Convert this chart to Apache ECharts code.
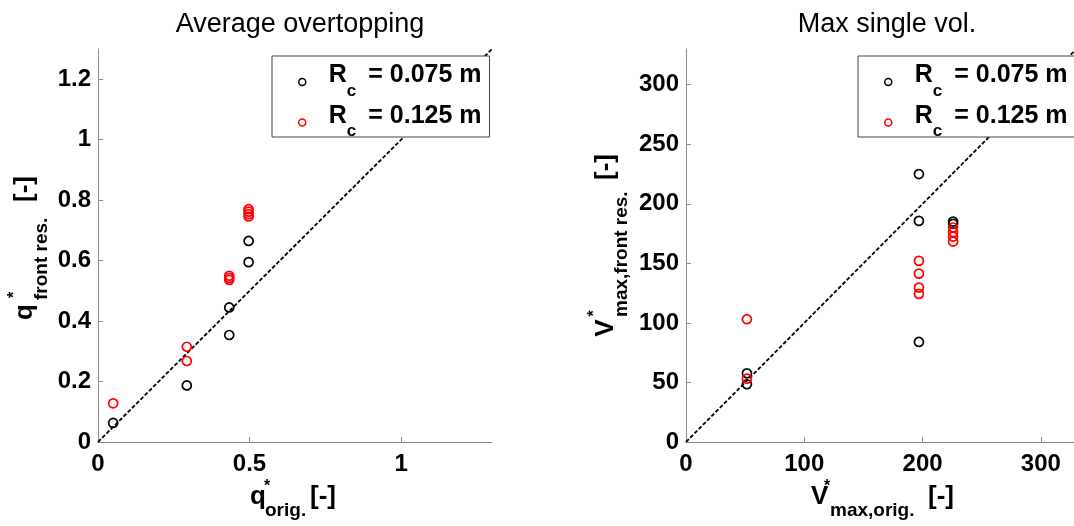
<!DOCTYPE html>
<html>
<head>
<meta charset="utf-8">
<script src="https://cdn.jsdelivr.net/npm/echarts@6/dist/echarts.min.js"></script>
<style>
  html, body { margin: 0; padding: 0; background: #fff; }
  #chart { width: 1074px; height: 526px; }
</style>
</head>
<body>
<div id="chart"></div>
<script>
// ---- data -------------------------------------------------------------
// Average overtopping, q* (original vs. with front reservoir)
const qOrigA  = [0.05, 0.293, 0.433, 0.433, 0.497, 0.497];          // Rc = 0.075 m
const qFrontA = [0.063, 0.187, 0.445, 0.354, 0.665, 0.595];
const qOrigB  = [0.05, 0.293, 0.293, 0.433, 0.433, 0.433, 0.497, 0.497, 0.497, 0.497]; // Rc = 0.125 m
const qFrontB = [0.128, 0.315, 0.268, 0.550, 0.543, 0.536, 0.770, 0.762, 0.754, 0.746];

// Maximum single volume, V*max (original vs. with front reservoir)
const vOrigA  = [51.5, 51.5, 196.9, 196.9, 196.9, 225.8, 225.8];   // Rc = 0.075 m
const vFrontA = [57.7, 48.5, 225.0, 185.7, 84.0, 185.1, 183.2];
const vOrigB  = [51.5, 51.5, 196.9, 196.9, 196.9, 196.9, 225.8, 225.8, 225.8, 225.8]; // Rc = 0.125 m
const vFrontB = [103.1, 53.2, 152.1, 141.4, 129.7, 124.4, 180.1, 176.2, 172.5, 168.3];

// axis ranges and ticks
const qMax = 1.3;
const qTicksX = [0, 0.5, 1];
const qTicksY = [0, 0.2, 0.4, 0.6, 0.8, 1, 1.2];
const vMaxX = 328;
const vMaxY = 330;
const vTicksX = [0, 100, 200, 300];
const vTicksY = [0, 50, 100, 150, 200, 250, 300];

const nameA = 'Rc = 0.075 m';
const nameB = 'Rc = 0.125 m';
const titles = ['Average overtopping', 'Max single vol.'];

// ---- styling ----------------------------------------------------------
const FONT = '"Liberation Sans", Arial, Helvetica, sans-serif';
const AXIS_GREY = '#8a8a8a';
const BLACK = '#000000';
const RED = '#ff0000';

const zip = (xs, ys) => xs.map((x, i) => [x, ys[i]]);

function valueAxis(gridIndex, max, ticks, margin) {
  return {
    type: 'value', gridIndex, min: 0, max,
    axisLine: { show: true, onZero: false, lineStyle: { color: AXIS_GREY, width: 1 } },
    axisTick: { show: true, inside: true, length: 5, customValues: ticks,
                lineStyle: { color: AXIS_GREY, width: 1 } },
    minorTick: { show: false },
    splitLine: { show: false },
    axisLabel: { customValues: ticks, margin, color: '#000', fontSize: 24,
                 fontWeight: 'bold', fontFamily: FONT }
  };
}

function scatter(name, xi, data, color) {
  return {
    type: 'scatter', name, xAxisIndex: xi, yAxisIndex: xi, data,
    symbol: 'circle', symbolSize: 9, z: 3,
    itemStyle: { color: 'transparent', borderColor: color, borderWidth: 1.7, opacity: 1 },
    emphasis: { disabled: true }
  };
}

function diagonal(xi, max) {
  return {
    type: 'line', xAxisIndex: xi, yAxisIndex: xi, data: [[0, 0], [max, max]],
    symbol: 'none', silent: true, z: 2, clip: true,
    lineStyle: { color: '#000', width: 1.8, type: [4, 2] }
  };
}

function legend(left) {
  return {
    orient: 'vertical', left, top: 56,
    selectedMode: false,
    itemWidth: 43, itemHeight: 7, itemGap: 4,
    padding: [7, 8, -3, 26],
    backgroundColor: '#fff', borderColor: '#444', borderWidth: 1, borderRadius: 0,
    icon: 'circle',
    data: [
      { name: nameA, itemStyle: { color: 'transparent', borderColor: BLACK, borderWidth: 1.5 } },
      { name: nameB, itemStyle: { color: 'transparent', borderColor: RED, borderWidth: 1.5 } }
    ],
    formatter: (n) => '{m|R}{s|c}{v|= ' + n.split('= ')[1] + '}',
    textStyle: {
      color: '#000', fontFamily: FONT, fontWeight: 'bold',
      rich: {
        m: { fontSize: 25, fontWeight: 'bold', fontFamily: FONT, color: '#000', padding: [0, 0, 13, 0] },
        s: { fontSize: 17, fontWeight: 'bold', fontFamily: FONT, color: '#000', padding: [18, 0, 0, 0] },
        v: { fontSize: 25, fontWeight: 'bold', fontFamily: FONT, color: '#000', padding: [0, 0, 13, 12] }
      }
    }
  };
}

// axis name built from pieces: main letter, superscript star, subscript, unit
function axisName(x, y, rotation, parts) {
  return {
    type: 'group', x, y, rotation, silent: true,
    children: parts.map(([text, dx, dy, size]) => ({
      type: 'text', x: dx, y: dy,
      style: { text, font: 'bold ' + size + 'px ' + FONT, fill: '#000',
               align: 'left', verticalAlign: 'middle' }
    }))
  };
}

const chart = echarts.init(document.getElementById('chart'), null, { renderer: 'canvas' });

chart.setOption({
  animation: false,
  backgroundColor: '#fff',
  title: [
    { text: titles[0], left: 295, top: 6, textAlign: 'center',
      textStyle: { fontSize: 27, fontWeight: 'normal', color: '#000', fontFamily: FONT } },
    { text: titles[1], left: 882, top: 6, textAlign: 'center',
      textStyle: { fontSize: 27, fontWeight: 'normal', color: '#000', fontFamily: FONT } }
  ],
  grid: [
    { left: 98, top: 49, width: 394, height: 393, containLabel: false },
    { left: 686, top: 49, width: 393, height: 393, containLabel: false }
  ],
  xAxis: [
    valueAxis(0, qMax, qTicksX, 10),
    valueAxis(1, vMaxX, vTicksX, 10)
  ],
  yAxis: [
    valueAxis(0, qMax, qTicksY, 7),
    valueAxis(1, vMaxY, vTicksY, 7)
  ],
  legend: [legend(272), legend(858)],
  series: [
    diagonal(0, qMax),
    scatter(nameA, 0, zip(qOrigA, qFrontA), BLACK),
    scatter(nameB, 0, zip(qOrigB, qFrontB), RED),
    diagonal(1, vMaxY),
    scatter(nameA, 1, zip(vOrigA, vFrontA), BLACK),
    scatter(nameB, 1, zip(vOrigB, vFrontB), RED)
  ],
  graphic: [
    axisName(0, 0, 0, [['q', 250, 497, 26], ['*', 264, 487, 16], ['orig.', 265, 510.5, 19], ['[-]', 310, 497, 26]]),
    axisName(0, 0, 0, [['V', 811, 497, 26], ['*', 824, 487, 16], ['max,orig.', 830, 510.5, 19], ['[-]', 928, 497, 26]]),
    axisName(34, 320, Math.PI / 2, [['q', 0, -9, 26], ['*', 22, -19.7, 16], ['front res.', 20, 7.4, 19], ['[-]', 118, -9, 26]]),
    axisName(615, 336.7, Math.PI / 2, [['V', 0, -9, 26], ['*', 20.3, -20.7, 16], ['max,front res.', 19.7, 6.8, 19], ['[-]', 156.7, -9, 26]])
  ]
});
</script>
</body>
</html>
